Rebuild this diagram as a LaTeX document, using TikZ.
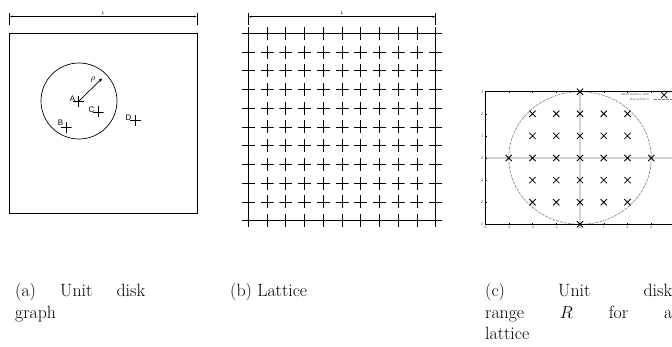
\documentclass[tikz,border=0pt]{standalone}
\usepackage{fontspec}
\newfontfamily\helv{Liberation Sans}
\usetikzlibrary{arrows.meta,shapes.misc,positioning}

\begin{document}
\begin{tikzpicture}[x=1pt,y=-1pt]
   \tikzstyle{pl}=[inner sep=0pt,minimum size=11pt,path picture={
      \draw[line width=0.7pt] (path picture bounding box.north) -- (path picture bounding box.south)
         (path picture bounding box.west) -- (path picture bounding box.east);}]
   \tikzstyle{xx}=[cross out,draw,inner sep=0pt,minimum size=5.5pt,line width=0.8pt]
   \tikzstyle{lbl}=[font=\helv\fontsize{8}{8}\selectfont,inner sep=0pt]
   \tikzstyle{dim}=[{Latex[length=3pt,width=2pt]}-{Latex[length=3pt,width=2pt]},line width=0.5pt]
   \tikzstyle{capt}=[anchor=north west,inner sep=0pt,font=\fontsize{17.8}{21.5}\selectfont]
   \tikzstyle{tk}=[font=\helv\fontsize{4}{4.5}\selectfont,text=black!60,inner sep=1.5pt]
   \tikzstyle{lg}=[font=\helv\fontsize{3.2}{3.5}\selectfont,text=black!60,inner sep=0pt,anchor=east]

   \useasboundingbox (0,0) rectangle (672,347);

   % (a) unit disk graph
   \coordinate (la1) at (9.5,16.5);
   \coordinate (la2) at (197,16.5);
   \draw[line width=0.5pt] (9.5,13.5) -- (9.5,25) (197,13.5) -- (197,25);
   \draw[dim] (la1) -- node[lbl,font=\helv\fontsize{4.5}{4.5}\selectfont,above=2pt] {L} (la2);
   \draw[line width=0.7pt] (9.5,33.5) rectangle (197,213.5);
   \node (disk) [circle,draw,line width=0.7pt,minimum size=76pt,inner sep=0pt] at (79,101) {};
   \node (A) [pl] at (78.5,101.5) {};
   \node (B) [pl] at (66,127.5) {};
   \node (C) [pl] at (98,112) {};
   \node (D) [pl] at (135.5,120.5) {};
   \node [lbl] at (72.5,98.5) {A};
   \node [lbl] at (60.5,122.5) {B};
   \node [lbl] at (91.5,109.5) {C};
   \node [lbl] at (128.5,117.5) {D};
   \coordinate (tip) at (102.5,78);
   \draw[line width=0.7pt,-{Latex[length=4pt,width=3pt]}] (A.center) -- (tip);
   \node [inner sep=0pt,font=\fontsize{9}{9}\selectfont] at (93,79.5) {$\rho$};

   % (b) lattice
   \coordinate (lb1) at (248.3,16.7);
   \coordinate (lb2) at (435.7,16.7);
   \draw[line width=0.5pt] (248.3,13.5) -- (248.3,25) (435.7,13.5) -- (435.7,25);
   \draw[dim] (lb1) -- node[lbl,font=\helv\fontsize{4.5}{4.5}\selectfont,above=2pt] {L} (lb2);
   \draw[line width=0.7pt] (248.3,33.3) rectangle (435.7,220.7);
   \foreach \i in {0,...,10}
      \foreach \j in {0,...,10}
         \node (g\i-\j) [pl,minimum size=13pt] at (248.3+18.74*\i,33.3+18.74*\j) {};

   % (c) lattice points in the disk
   \begin{scope}[shift={(580,158)},x=23.75pt,y=22.1pt]
      \clip (-4.8,-3.7) rectangle (3.874,3.3);
      \draw[gray!35,line width=1.3pt] (-4,0) -- (4,0) (0,-3) -- (0,3);
      \draw[gray,line width=0.6pt,dash pattern=on 3pt off 1pt] (0,0) ellipse (3 and 3);
      \draw[line width=0.9pt] (4,3) -- (-4,3) -- (-4,-3) -- (4,-3);
      \foreach \t in {-4,...,3} {
         \draw[line width=0.4pt] (\t,-3) -- ++(0,0.08) (\t,3) -- ++(0,-0.08);
         \node[tk,below] at (\t,-3) {\t};
      }
      \foreach \t in {-3,...,3} {
         \draw[line width=0.4pt] (-4,\t) -- ++(0.08,0);
         \node[tk,left] at (-4,\t) {\t};
      }
      \foreach \i in {-2,...,2}
         \foreach \j in {-2,...,2}
            \node (pt\i\j) [xx] at (\i,\j) {};
      \node (pt03) [xx] at (0,3) {};
      \node (pt0-3) [xx] at (0,-3) {};
      \node (pt30) [xx] at (3,0) {};
      \node (pt-30) [xx] at (-3,0) {};
      \node [lg] at (2.905,2.85) {lattice points in disk};
      \node (key) [xx] at (3.54,2.85) {};
      \node [lg] at (2.905,2.64) {disk radius=3};
      \draw[gray,line width=0.5pt,dash pattern=on 3pt off 1pt] (3.12,2.64) -- (3.874,2.64);
   \end{scope}

   % captions
   \node (capa) [capt,text width=130pt,align=justify] at (15,283) {(a) Unit disk\linebreak graph};
   \node (capb) [capt] at (230,283) {(b) Lattice};
   \node (capc) [capt,text width=187pt,align=justify] at (485,283) {(c) Unit disk\linebreak range $R$ for a\linebreak lattice};
\end{tikzpicture}
\end{document}
